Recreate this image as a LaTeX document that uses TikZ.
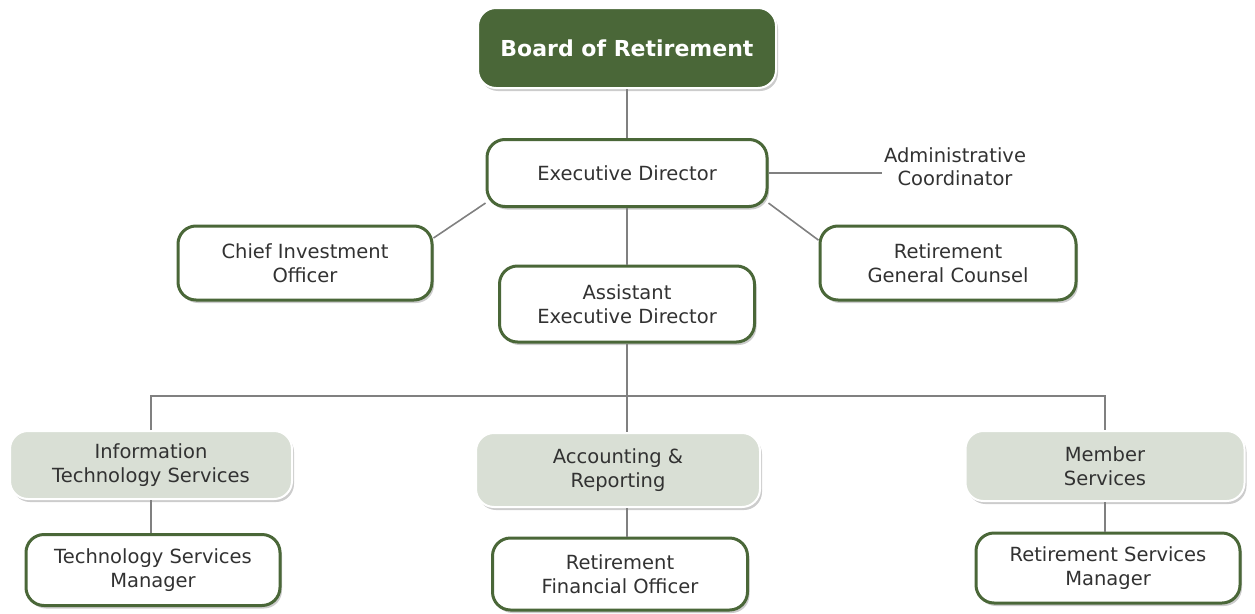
\documentclass[tikz,border=0pt]{standalone}
\usepackage{fontspec}
\setmainfont{DejaVu Sans}
\usetikzlibrary{shadows}

\definecolor{boardgreen}{RGB}{74,103,56}
\definecolor{deptfill}{RGB}{217,223,213}
\definecolor{linkgrey}{RGB}{128,128,128}
\definecolor{textgrey}{RGB}{50,50,50}

\tikzset{
  orgbox/.style={rounded corners=18pt, align=center, text=textgrey,
    font=\fontsize{19.5}{24}\selectfont, inner sep=0pt,
    drop shadow={shadow xshift=2pt, shadow yshift=-3pt, fill=black!40, opacity=0.5}},
  headbox/.style={orgbox, fill=boardgreen, draw=white, line width=2pt, text=white,
    font=\fontsize{22}{26}\bfseries\selectfont},
  postbox/.style={orgbox, fill=white, draw=boardgreen, line width=3pt},
  deptbox/.style={orgbox, fill=deptfill, draw=white, line width=2pt},
  link/.style={draw=linkgrey, line width=1.6pt}
}

\begin{document}
\begin{tikzpicture}[x=1pt, y=-1pt]
  \useasboundingbox (0,0) rectangle (1255,613);

  % Top of the chart
  \node[headbox, minimum width=298, minimum height=80] (board) at (627,48) {Board of Retirement};
  \node[postbox, minimum width=280, minimum height=67] (exec) at (627,173) {Executive Director};
  \node[align=center, text=textgrey, font=\fontsize{19.5}{23}\selectfont, inner sep=2pt] (admin) at (955,167) {Administrative\\Coordinator};

  % Second row
  \node[postbox, minimum width=254, minimum height=74] (cio) at (305,263) {Chief Investment\\Officer};
  \node[postbox, minimum width=256, minimum height=74] (counsel) at (948,263) {Retirement\\General Counsel};
  \node[postbox, minimum width=255, minimum height=76] (aed) at (627,304) {Assistant\\Executive Director};

  % Divisions
  \node[deptbox, minimum width=282, minimum height=68] (its) at (151,465) {Information\\Technology Services};
  \node[deptbox, minimum width=284, minimum height=74] (acct) at (618,470) {Accounting \&\\Reporting};
  \node[deptbox, minimum width=279, minimum height=70] (members) at (1105,466) {Member\\Services};

  % Managers
  \node[postbox, minimum width=254, minimum height=71] (techmgr) at (153,570) {Technology Services\\Manager};
  \node[postbox, minimum width=255, minimum height=72] (finance) at (620,574) {Retirement\\Financial Officer};
  \node[postbox, minimum width=264, minimum height=70] (svcmgr) at (1108,568) {Retirement Services\\Manager};

  % Connectors
  \coordinate (bus) at (627,396);
  \draw[link] (board) -- (exec);
  \draw[link] (exec.east) -- (exec.east -| admin.west);
  \draw[link] (exec.192) -- (cio.11);
  \draw[link] (exec.-12) -- (counsel.170);
  \draw[link] (exec) -- (aed);
  \draw[link] (aed) -- (bus);
  \draw[link] (its.north) |- (bus) -| (members.north);
  \draw[link] (bus) -- (aed.south |- acct.north);
  \draw[link] (its.south) -- (its.south |- techmgr.north);
  \draw[link] (aed.south |- acct.south) -- (aed.south |- finance.north);
  \draw[link] (members.south) -- (members.south |- svcmgr.north);
\end{tikzpicture}
\end{document}
